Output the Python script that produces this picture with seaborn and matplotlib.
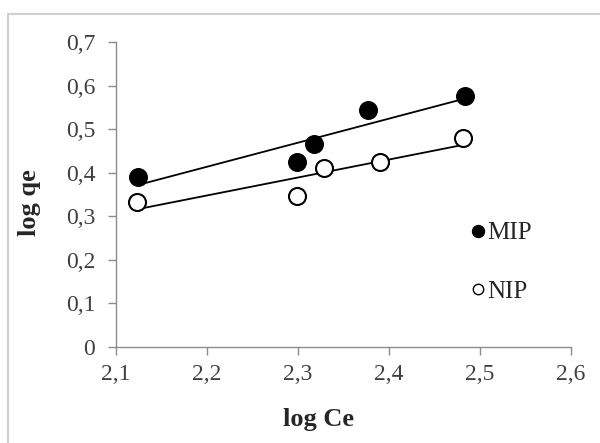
import numpy as np
import pandas as pd
import seaborn as sns
import matplotlib.pyplot as plt
from matplotlib.lines import Line2D
from matplotlib.patches import Rectangle
from matplotlib.ticker import FuncFormatter

# values
mip_log_ce = [2.124, 2.299, 2.318, 2.377, 2.483]
mip_log_qe = [0.391, 0.425, 0.465, 0.544, 0.576]
nip_log_ce = [2.123, 2.299, 2.329, 2.390, 2.481]
nip_log_qe = [0.333, 0.347, 0.412, 0.425, 0.479]

x_ticks = [2.1, 2.2, 2.3, 2.4, 2.5, 2.6]
y_ticks = [0, 0.1, 0.2, 0.3, 0.4, 0.5, 0.6, 0.7]

mip = pd.DataFrame({"logCe": mip_log_ce, "logqe": mip_log_qe})
nip = pd.DataFrame({"logCe": nip_log_ce, "logqe": nip_log_qe})

sns.set_style("white")
plt.rcParams["font.family"] = ["Liberation Serif", "DejaVu Serif"]

fig = plt.figure(figsize=(6, 4.43), dpi=100)
ax = fig.add_axes([0.1933, 0.2167, 0.7584, 0.6883])

# outer chart frame (right/bottom edges fall outside the image)
fig.patches.append(
    Rectangle((8 / 600, -0.1), 1.2, 1 - 14 / 443 + 0.1, transform=fig.transFigure,
              fill=False, edgecolor="#d0d0d0", linewidth=1.5, zorder=0)
)

sns.regplot(data=mip, x="logCe", y="logqe", ax=ax, ci=None,
            scatter_kws={"s": 160, "color": "black", "alpha": 1, "linewidths": 1, "zorder": 3},
            line_kws={"color": "black", "linewidth": 1.3})
sns.regplot(data=nip, x="logCe", y="logqe", ax=ax, ci=None,
            scatter_kws={"s": 150, "facecolor": "white", "edgecolor": "black", "alpha": 1,
                         "linewidths": 1.5, "zorder": 3},
            line_kws={"color": "black", "linewidth": 1.3})

ax.set_xlim(2.1, 2.6)
ax.set_ylim(0, 0.7)
ax.set_xticks(x_ticks)
ax.set_yticks(y_ticks)
comma = FuncFormatter(lambda v, p: ("%g" % round(v, 2)).replace(".", ","))
ax.xaxis.set_major_formatter(comma)
ax.yaxis.set_major_formatter(comma)

for side in ["top", "right"]:
    ax.spines[side].set_visible(False)
for side in ["left", "bottom"]:
    ax.spines[side].set_color("#8c8c8c")
    ax.spines[side].set_linewidth(1)
ax.tick_params(axis="both", direction="out", length=6, width=1, color="#8c8c8c",
               labelsize=17, labelcolor="#404040")
ax.tick_params(axis="x", bottom=True, pad=6)
ax.tick_params(axis="y", left=True, pad=9)

ax.set_xlabel("log Ce", fontsize=19, fontweight="bold")
ax.set_ylabel("log qe", fontsize=19, fontweight="bold")
ax.xaxis.set_label_coords(0.445, -0.2)
ax.yaxis.set_label_coords(-0.165, 0.475)

handles = [
    Line2D([], [], marker="o", linestyle="", markersize=8.6, color="black", label="MIP"),
    Line2D([], [], marker="o", linestyle="", markersize=7.5, markerfacecolor="white",
           markeredgecolor="black", markeredgewidth=1.0, label="NIP"),
]
ax.legend(handles=handles, loc="center left", bbox_to_anchor=(0.782, 0.277),
          frameon=False, fontsize=18, handlelength=0.5, handletextpad=0.1,
          labelspacing=1.45, borderpad=0, borderaxespad=0)

fig.savefig("out.png", dpi=100)
